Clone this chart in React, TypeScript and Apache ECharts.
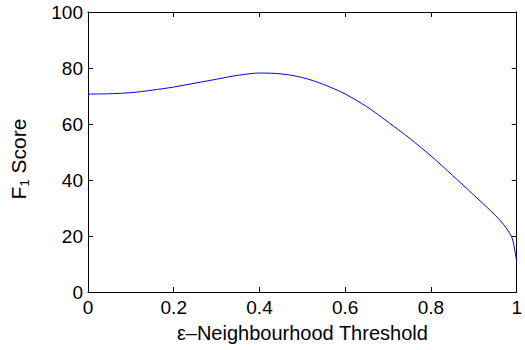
import React, { useEffect, useRef } from "react";
import * as echarts from "echarts";

// Threshold values (x) and corresponding F1 scores (%)
const thresholds = [0, 0.05, 0.1, 0.15, 0.2, 0.25, 0.3, 0.35, 0.4, 0.45, 0.5, 0.55, 0.6, 0.65, 0.7, 0.75, 0.8, 0.85, 0.9, 0.95, 0.97, 0.98, 0.99, 1.0];
const f1Scores = [70.7, 70.8, 71.2, 72.1, 73.2, 74.6, 76.0, 77.4, 78.2, 77.9, 76.6, 74.1, 70.7, 66.2, 60.7, 54.9, 48.6, 41.7, 34.6, 27.4, 24.0, 21.8, 19.0, 10.8];

const xTicks = [0, 0.2, 0.4, 0.6, 0.8, 1];
const yTicks = [0, 20, 40, 60, 80, 100];

const FONT = "Liberation Sans, Arial, Helvetica, sans-serif";

export default function App() {
  const ref = useRef<HTMLDivElement>(null);

  useEffect(() => {
    if (!ref.current) return;
    const chart = echarts.init(ref.current, null, { renderer: "svg" });
    const axisCommon = {
      axisLine: { show: true, onZero: false, lineStyle: { color: "#000", width: 1 } },
      axisTick: { show: true, inside: true, length: 5, lineStyle: { color: "#000", width: 1 } },
      splitLine: { show: false },
    };
    const xLabel = (v: number) => (xTicks.some((t) => Math.abs(t - v) < 1e-9) ? String(+v.toFixed(1)) : "");
    const yLabel = (v: number) => (yTicks.includes(v) ? String(v) : "");
    chart.setOption({
      animation: false,
      grid: { left: 86, top: 12, width: 436, height: 280, containLabel: false },
      xAxis: [
        {
          type: "value",
          min: 0,
          max: 1,
          interval: 0.2,
          position: "bottom",
          ...axisCommon,
          axisLabel: { color: "#000", fontSize: 19, fontFamily: FONT, margin: 6, formatter: xLabel, showMaxLabel: true },
          name: "ε–Neighbourhood Threshold",
          nameLocation: "middle",
          nameGap: 31,
          nameTextStyle: { color: "#000", fontSize: 20, fontFamily: FONT },
        },
        {
          type: "value",
          min: 0,
          max: 1,
          interval: 0.2,
          position: "top",
          ...axisCommon,
          axisLabel: { show: false },
        },
      ],
      yAxis: [
        {
          type: "value",
          min: 0,
          max: 100,
          interval: 20,
          position: "left",
          ...axisCommon,
          axisLabel: { color: "#000", fontSize: 19, fontFamily: FONT, margin: 5, formatter: yLabel },
          name: "F{sub|1} Score",
          nameLocation: "middle",
          nameGap: 57,
          nameRotate: 90,
          nameTextStyle: {
            color: "#000",
            fontSize: 21,
            fontFamily: FONT,
            padding: [0, 14, 0, 0],
            rich: {
              sub: { fontSize: 13, fontFamily: FONT, color: "#000", padding: [12, 0, 0, 0] },
            },
          },
        },
        {
          type: "value",
          min: 0,
          max: 100,
          interval: 20,
          position: "right",
          ...axisCommon,
          axisLabel: { show: false },
        },
      ],
      series: [
        {
          type: "line",
          data: thresholds.map((x, i) => [x, f1Scores[i]]),
          showSymbol: false,
          smooth: 0.3,
          lineStyle: { color: "#0000ff", width: 1 },
          xAxisIndex: 0,
          yAxisIndex: 0,
        },
      ],
    });
    return () => chart.dispose();
  }, []);

  return (
    <div
      ref={ref}
      style={{ position: "fixed", left: 0, top: 0, width: 525, height: 350, background: "#fff" }}
    />
  );
}
